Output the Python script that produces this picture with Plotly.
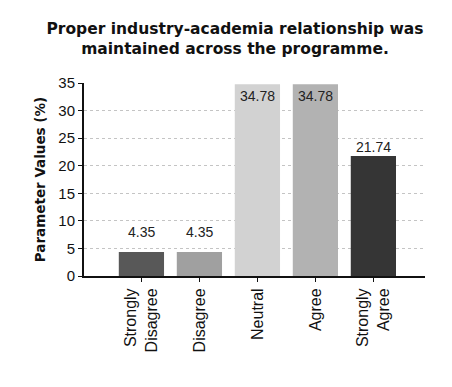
import plotly.graph_objects as go

categories = ["Strongly<br>Disagree", "Disagree", "Neutral", "Agree", "Strongly<br>Agree"]
values = [4.35, 4.35, 34.78, 34.78, 21.74]
value_labels = ["4.35", "4.35", "34.78", "34.78", "21.74"]
y_ticks = [0, 5, 10, 15, 20, 25, 30, 35]

bar_colors = ["#585858", "#a0a0a0", "#d2d2d2", "#b2b2b2", "#353535"]
label_shift = [20, 20, -12, -12, 9]

fig = go.Figure()
fig.add_trace(go.Bar(
    x=list(range(len(categories))), y=values,
    marker=dict(color=bar_colors, line=dict(width=0)),
    width=0.78, showlegend=False,
))

for i, (v, t) in enumerate(zip(values, value_labels)):
    fig.add_annotation(x=i, y=v, text=t, showarrow=False, yshift=label_shift[i],
                       font=dict(family="Liberation Sans, Arial", size=14, color="#222"))

fig.update_layout(
    width=452, height=387,
    margin=dict(l=76, r=35, t=75, b=119, autoexpand=False),
    paper_bgcolor="white", plot_bgcolor="white",
    title=dict(text="Proper industry-academia relationship was<br>maintained across the programme.",
               x=227/452, xanchor="center", xref="container", y=1 - 26/387, yanchor="top",
               font=dict(family="DejaVu Sans", size=15.5, color="#111", weight="bold")),
)
fig.update_xaxes(
    range=[-0.99, 4.89], tickmode="array", tickvals=list(range(len(categories))),
    ticktext=categories, tickangle=-90, automargin=False,
    tickfont=dict(family="Liberation Sans, Arial", size=16, color="#111"),
    showline=True, linecolor="#111", linewidth=2, ticks="outside", ticklen=4,
    tickcolor="#111", showgrid=False, zeroline=False,
)
fig.update_yaxes(
    range=[0, 35], tickvals=y_ticks, automargin=False,
    tickfont=dict(family="Liberation Sans, Arial", size=15, color="#111"),
    showline=True, linecolor="#111", linewidth=2, ticks="outside", ticklen=4,
    tickcolor="#111", showgrid=True, gridcolor="#c4c4c4", griddash="dot", gridwidth=1,
    zeroline=False,
    title=dict(text="Parameter Values (%)", standoff=10,
               font=dict(family="DejaVu Sans", size=13.5, color="#111", weight="bold")),
)

fig.write_html("out.html")
